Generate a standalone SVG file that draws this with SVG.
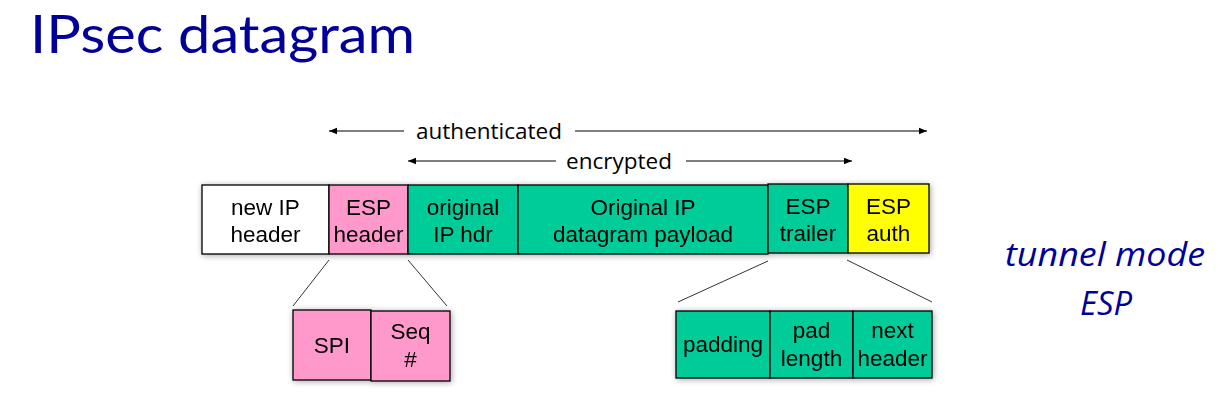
<svg xmlns="http://www.w3.org/2000/svg" width="1224" height="407" viewBox="0 0 1224 407">
<style>
.box{stroke:#000;stroke-width:1.3}
.w{fill:#fff}.p{fill:#ff99cc}.g{fill:#00cc99}.y{fill:#ffff00}
.t{font-family:"Liberation Sans",Arial,sans-serif;font-size:22.5px;fill:#000;text-anchor:middle}
.lbl{font-family:"Open Sans",sans-serif;font-size:22.5px;fill:#000;text-anchor:middle}
.ttl{font-family:"Open Sans",sans-serif;fill:#000099}
.arr{stroke:#000;stroke-width:1.2;fill:none}
.ln{stroke:#333;stroke-width:1;fill:none}
</style>
<defs>
<marker id="ah" viewBox="0 0 10 10" refX="10" refY="5" markerWidth="8" markerHeight="8" markerUnits="userSpaceOnUse" orient="auto-start-reverse">
<path d="M0,1 L10,5 L0,9 Z" fill="#000"/>
</marker>
<filter id="sh" x="-10%" y="-20%" width="120%" height="140%">
<feGaussianBlur in="SourceAlpha" stdDeviation="3"/>
<feOffset dx="1" dy="1"/>
<feComponentTransfer><feFuncA type="linear" slope="0.35"/></feComponentTransfer>
<feMerge><feMergeNode/><feMergeNode in="SourceGraphic"/></feMerge>
</filter>
</defs>
<rect width="1224" height="407" fill="#fff"/>
<text x="30" y="53" font-family="Lato, 'Open Sans', sans-serif" fill="#000099" font-size="53" textLength="385" lengthAdjust="spacingAndGlyphs">IPsec datagram</text>
<g id="mode">
<text class="ttl" x="1105" y="266" font-size="32" font-style="italic" text-anchor="middle" textLength="200" lengthAdjust="spacingAndGlyphs">tunnel mode</text>
<text class="ttl" x="1106" y="315" font-size="32" font-style="italic" text-anchor="middle" textLength="52" lengthAdjust="spacingAndGlyphs">ESP</text>
</g>
<g id="connectors">
<line class="arr" x1="329" y1="131" x2="404" y2="131" marker-start="url(#ah)"/>
<line class="arr" x1="575" y1="131" x2="927" y2="131" marker-end="url(#ah)"/>
<line class="arr" x1="408" y1="161" x2="556" y2="161" marker-start="url(#ah)"/>
<line class="arr" x1="686" y1="161" x2="852" y2="161" marker-end="url(#ah)"/>
<line class="ln" x1="329" y1="260" x2="293" y2="306"/>
<line class="ln" x1="408" y1="260" x2="447" y2="306"/>
<line class="ln" x1="768" y1="261" x2="678" y2="302"/>
<line class="ln" x1="847" y1="260" x2="932" y2="302"/>
</g>
<g id="labels">
<text class="lbl" x="489" y="139">authenticated</text>
<rect x="556" y="146" width="126" height="35" fill="#fff"/>
<text class="lbl" x="619" y="169">encrypted</text>
</g>
<g id="datagram" filter="url(#sh)">
<g id="new-ip-header"><rect class="box w" x="202" y="185" width="127" height="69"/>
<text class="t" x="265.5" y="215">new IP</text><text class="t" x="265.5" y="242">header</text></g>
<g id="esp-header"><rect class="box p" x="329" y="185" width="79" height="69"/>
<text class="t" x="368.5" y="215">ESP</text><text class="t" x="368.5" y="242">header</text></g>
<g id="orig-ip-hdr"><rect class="box g" x="408" y="185" width="110" height="69"/>
<text class="t" x="463" y="215">original</text><text class="t" x="463" y="242">IP hdr</text></g>
<g id="payload"><rect class="box g" x="518" y="185" width="250" height="69"/>
<text class="t" x="643" y="215">Original IP</text><text class="t" x="643" y="242">datagram payload</text></g>
<g id="esp-trailer"><rect class="box g" x="768" y="184" width="80" height="69"/>
<text class="t" x="808" y="214">ESP</text><text class="t" x="808" y="241">trailer</text></g>
<g id="esp-auth"><rect class="box y" x="848" y="184" width="81" height="69"/>
<text class="t" x="888.5" y="214">ESP</text><text class="t" x="888.5" y="241">auth</text></g>
</g>
<g id="esp-fields" filter="url(#sh)">
<g id="spi"><rect class="box p" x="293" y="310" width="78" height="70"/>
<text class="t" x="332" y="353">SPI</text></g>
<g id="seq"><rect class="box p" x="371" y="311" width="79" height="70"/>
<text class="t" x="410.5" y="339">Seq</text><text class="t" x="410.5" y="367">#</text></g>
</g>
<g id="trailer-fields" filter="url(#sh)">
<g id="padding"><rect class="box g" x="676" y="311" width="94" height="67"/>
<text class="t" x="723" y="352">padding</text></g>
<g id="pad-length"><rect class="box g" x="770" y="311" width="83" height="67"/>
<text class="t" x="811.5" y="338">pad</text><text class="t" x="811.5" y="366">length</text></g>
<g id="next-header"><rect class="box g" x="853" y="311" width="79" height="67"/>
<text class="t" x="892.5" y="338">next</text><text class="t" x="892.5" y="366">header</text></g>
</g>
</svg>
